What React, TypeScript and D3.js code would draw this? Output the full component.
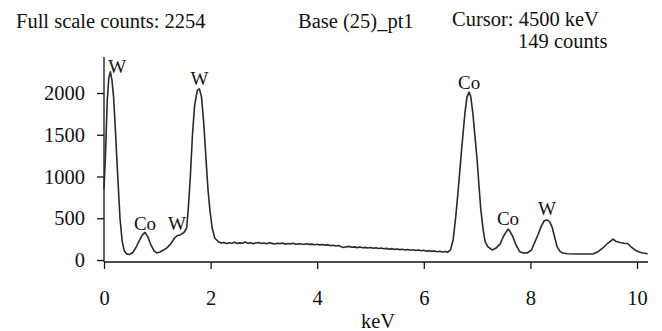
import React, { useRef, useEffect } from "react";
import { select, scaleLinear, line, axisLeft, axisBottom } from "d3";

// EDS spectrum
const energy = [
  0.0, 0.03, 0.06, 0.09, 0.12, 0.15, 0.18, 0.21, 0.25, 0.3, 0.34, 0.38, 0.43, 0.48, 0.54, 0.6, 0.66, 0.72,
  0.77, 0.82, 0.88, 0.94, 0.99, 1.05, 1.12, 1.18, 1.25, 1.32, 1.37, 1.43, 1.5, 1.55, 1.58, 1.62, 1.66, 1.7,
  1.75, 1.79, 1.83, 1.87, 1.91, 1.95, 1.99, 2.03, 2.08, 2.15, 2.2,
  2.25, 2.3, 2.35, 2.4, 2.45, 2.5, 2.55, 2.6, 2.65, 2.7, 2.75, 2.8, 2.85, 2.9, 2.95, 3.0, 3.05, 3.1, 3.15,
  3.2, 3.25, 3.3, 3.35, 3.4, 3.45, 3.5, 3.55, 3.6, 3.65, 3.7, 3.75, 3.8, 3.85, 3.9, 3.95, 4.0, 4.05, 4.1,
  4.15, 4.2, 4.25, 4.3, 4.35, 4.4, 4.45, 4.5, 4.55, 4.6, 4.65, 4.7, 4.75, 4.8, 4.85, 4.9, 4.95, 5.0, 5.05,
  5.1, 5.15, 5.2, 5.25, 5.3, 5.35, 5.4, 5.45, 5.5, 5.55, 5.6, 5.65, 5.7, 5.75, 5.8, 5.85, 5.9, 5.95, 6.0,
  6.05, 6.1, 6.15, 6.2, 6.25, 6.3, 6.35, 6.4, 6.45,
  6.5, 6.55, 6.6, 6.64, 6.68, 6.72, 6.77, 6.81, 6.85, 6.88, 6.92, 6.96, 7.0, 7.04, 7.07, 7.11, 7.15, 7.2,
  7.28, 7.35, 7.43, 7.5, 7.55, 7.58, 7.62, 7.67, 7.73, 7.8, 7.87, 7.94, 8.02, 8.08, 8.14, 8.2, 8.26, 8.31,
  8.36, 8.41, 8.46, 8.5, 8.56, 8.61, 8.7, 8.87, 9.0, 9.17, 9.27, 9.36, 9.45, 9.55, 9.6, 9.68, 9.76, 9.83,
  9.9, 9.96, 10.04, 10.11, 10.2
];
const counts = [
  850, 1300, 1900, 2180, 2254, 2150, 1950, 1600, 1100, 500, 230, 110, 70, 65, 90, 150, 230, 300,
  330, 280, 180, 110, 85, 95, 120, 145, 190, 260, 290, 300, 330, 380, 600, 1000, 1500, 1850,
  2030, 2050, 1950, 1650, 1250, 850, 580, 380, 260, 215, 205,
  210, 198, 206, 200, 212, 197, 205, 201, 215, 199, 207, 196, 204, 210, 198, 203, 194, 206, 199,
  192, 201, 196, 203, 190, 198, 193, 200, 188, 195, 191, 186, 194, 187, 190, 183, 189, 181, 186,
  178, 184, 172, 176, 168, 173, 160, 149, 158, 163, 152, 157, 148, 155, 146, 151, 143, 150, 141,
  146, 137, 143, 134, 139, 130, 136, 127, 132, 124, 129, 120, 126, 117, 122, 113, 119, 110, 116,
  106, 112, 103, 109, 99, 105, 96, 102, 93,
  120, 240, 520, 800, 1100, 1400, 1750, 1950, 2010, 1960, 1760, 1480, 1200, 850, 600, 380, 220, 160,
  120, 140, 190, 290, 340, 370, 340, 280, 180, 100, 85, 84, 120, 210, 300, 400, 470, 480,
  460, 390, 260, 160, 100, 84, 75, 72, 72, 72, 100, 144, 200, 250, 225, 210, 200, 195,
  150, 120, 95, 84, 75
];

// peak labels
const peakNames = ["W", "W", "Co", "W", "Co", "Co", "W"];
const peakEnergy = [0.25, 1.79, 0.77, 1.37, 6.85, 7.58, 8.31];
const peakCounts = [2190, 2050, 310, 310, 2000, 371, 491];

const xTicks = [0, 2, 4, 6, 8, 10];
const yTicks = [0, 500, 1000, 1500, 2000];

const FONT = "'Liberation Serif', 'Times New Roman', serif";
const FS = 20.5;

const App = () => {
  const svgRef = useRef<SVGSVGElement>(null);

  useEffect(() => {
    const svg = select(svgRef.current);
    svg.selectAll("*").remove();

    const xScale = scaleLinear().domain([0, 10]).range([104, 637]);
    const yScale = scaleLinear().domain([0, 2000]).range([260, 93]);
    const axisY = 262;

    // header text
    const header = [
      { t: "Full scale counts: 2254", x: 16, y: 28 },
      { t: "Base (25)_pt1", x: 298, y: 28 },
      { t: "Cursor: 4500 keV", x: 452, y: 26 },
      { t: "149 counts", x: 518, y: 48 }
    ];
    svg.selectAll(".hdr")
      .data(header)
      .enter().append("text")
      .attr("x", d => d.x)
      .attr("y", d => d.y)
      .attr("font-size", FS)
      .attr("font-family", FONT)
      .attr("fill", "#111")
      .text(d => d.t);

    // axes lines
    svg.append("line")
      .attr("x1", 104).attr("x2", 104).attr("y1", 57).attr("y2", axisY)
      .attr("stroke", "#111").attr("stroke-width", 1.3);
    svg.append("line")
      .attr("x1", 104).attr("x2", 648).attr("y1", axisY).attr("y2", axisY)
      .attr("stroke", "#111").attr("stroke-width", 1.3);

    const yAxis = axisLeft(yScale).tickValues(yTicks).tickFormat(d => String(d))
      .tickSize(7).tickSizeOuter(0).tickPadding(12);
    const gy = svg.append("g").attr("transform", "translate(104,0)").call(yAxis);
    gy.select(".domain").remove();

    const xAxis = axisBottom(xScale).tickValues(xTicks).tickFormat(d => String(d))
      .tickSize(7).tickSizeOuter(0).tickPadding(21);
    const gx = svg.append("g").attr("transform", `translate(0,${axisY})`).call(xAxis);
    gx.select(".domain").remove();

    svg.selectAll(".tick line").attr("stroke", "#111").attr("stroke-width", 1.3);
    svg.selectAll(".tick text")
      .attr("font-size", FS)
      .attr("font-family", FONT)
      .attr("fill", "#111");

    // spectrum
    const pts = energy.map((e, i) => [e, counts[i]] as [number, number]);
    const lineGenerator = line<[number, number]>()
      .x(d => xScale(d[0]))
      .y(d => yScale(d[1]));
    svg.append("path")
      .datum(pts)
      .attr("fill", "none")
      .attr("stroke", "#2a2a2a")
      .attr("stroke-width", 1.6)
      .attr("stroke-linejoin", "round")
      .attr("d", lineGenerator);

    // peak labels
    svg.selectAll(".peak")
      .data(peakNames)
      .enter().append("text")
      .attr("x", (d, i) => xScale(peakEnergy[i]))
      .attr("y", (d, i) => yScale(peakCounts[i]) - 4)
      .attr("text-anchor", "middle")
      .attr("font-size", 19)
      .attr("font-family", FONT)
      .attr("fill", "#111")
      .text(d => d);

    // x label
    svg.append("text")
      .attr("x", 378).attr("y", 328)
      .attr("text-anchor", "middle")
      .attr("font-size", FS)
      .attr("font-family", FONT)
      .attr("fill", "#111")
      .text("keV");
  }, []);

  return (
    <svg
      ref={svgRef}
      width={662}
      height={331}
      style={{ position: "absolute", left: 0, top: 0, background: "#fff" }}
    />
  );
};

export default App;
